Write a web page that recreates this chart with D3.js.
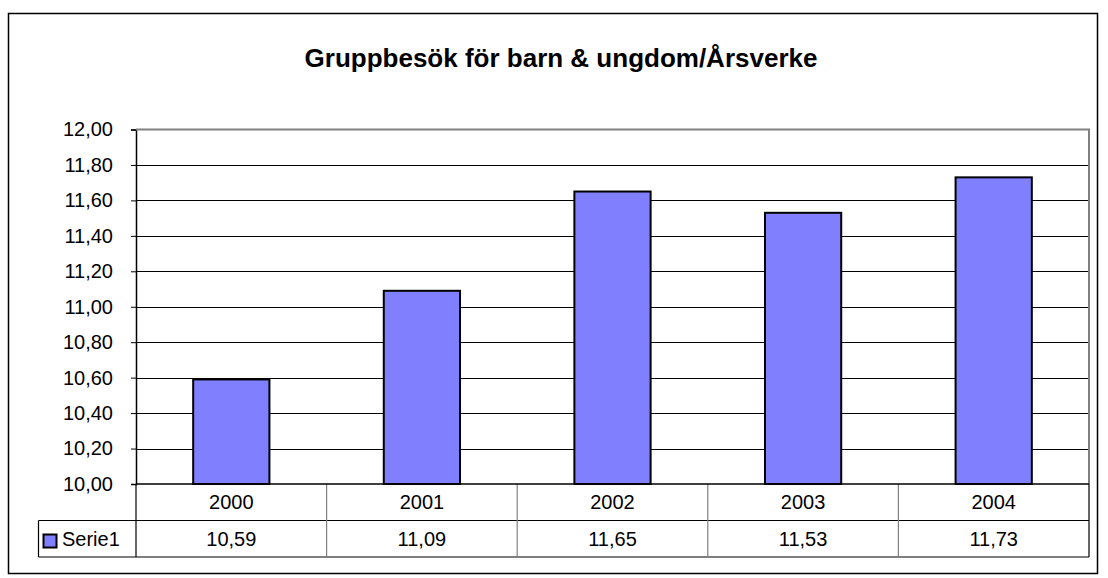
<!DOCTYPE html>
<html>
<head>
<meta charset="utf-8">
<script src="https://cdn.jsdelivr.net/npm/d3@7"></script>
<style>
  body { margin: 0; background: #fff; }
  svg text { font-family: "Liberation Sans", Arial, sans-serif; }
</style>
</head>
<body>
<div id="canvas"></div>
<script>
const title = 'Gruppbesök för barn & ungdom/Årsverke'
const years = ['2000', '2001', '2002', '2003', '2004']
const values = [10.59, 11.09, 11.65, 11.53, 11.73]
const seriesName = 'Serie1'
const yTicks = [10, 10.2, 10.4, 10.6, 10.8, 11, 11.2, 11.4, 11.6, 11.8, 12]

const width = 1108
const height = 578
const plot = { left: 136, right: 1089, top: 129.5, bottom: 484 }
const rowH = 36.5

const fmt = v => v.toFixed(2).replace('.', ',')

const svg = d3.select('#canvas')
  .append('svg')
    .attr('width', width)
    .attr('height', height)

// outer chart border
svg.append('rect')
  .attr('x', 8.5).attr('y', 13.5)
  .attr('width', 1089).attr('height', 560)
  .attr('fill', '#fff')
  .attr('stroke', '#000')
  .attr('stroke-width', 1.5)

svg.append('text')
  .attr('x', 561).attr('y', 67)
  .attr('text-anchor', 'middle')
  .attr('font-size', '26px')
  .attr('font-weight', 'bold')
  .text(title)

const x = d3.scaleBand()
  .domain(years)
  .range([plot.left, plot.right])
  .paddingInner(0)
  .paddingOuter(0)

const y = d3.scaleLinear()
  .domain([10, 12])
  .range([plot.bottom, plot.top])

// gridlines
svg.append('g')
  .selectAll('line')
  .data(yTicks.slice(1, -1))
  .join('line')
    .attr('x1', plot.left).attr('x2', plot.right)
    .attr('y1', d => Math.round(y(d)) + 0.5)
    .attr('y2', d => Math.round(y(d)) + 0.5)
    .attr('stroke', '#000')
    .attr('stroke-width', 1)

// y axis
const yAxis = d3.axisLeft(y)
  .tickValues(yTicks)
  .tickSize(5)
  .tickPadding(18)
  .tickFormat(fmt)

svg.append('g')
  .attr('transform', `translate(${plot.left}, 0)`)
  .call(yAxis)
  .call(g => g.select('.domain').attr('stroke', '#000').attr('stroke-width', 1.5))
  .call(g => g.selectAll('.tick line').attr('stroke', '#000'))
  .call(g => g.selectAll('.tick text')
    .attr('font-size', '20px')
    .attr('fill', '#000')
    .attr('font-family', '"Liberation Sans", Arial, sans-serif'))

// bars
const bw = x.bandwidth() * 0.4
svg.append('g')
  .selectAll('rect')
  .data(values)
  .join('rect')
    .attr('x', (d, i) => x(years[i]) + (x.bandwidth() - bw) / 2)
    .attr('y', d => y(d))
    .attr('width', bw)
    .attr('height', d => y(10) - y(d))
    .attr('fill', '#8080ff')
    .attr('stroke', '#000')
    .attr('stroke-width', 2)

// plot area border (grey), top and right
svg.append('path')
  .attr('d', `M${plot.left},${plot.top}H${plot.right}V${plot.bottom}`)
  .attr('fill', 'none')
  .attr('stroke', '#808080')
  .attr('stroke-width', 2)

// data table
const tbl = svg.append('g')
const row1 = plot.bottom
const row2 = plot.bottom + rowH
const row3 = plot.bottom + 2 * rowH
const legendLeft = 38.5

tbl.append('path')
  .attr('d', `M${legendLeft},${row2}H${plot.right}M${legendLeft},${row3}H${plot.right}` +
    `M${legendLeft},${row2}V${row3}M${plot.right},${row1}V${row3}`)
  .attr('stroke', '#000')
  .attr('fill', 'none')
  .attr('stroke-width', 1.2)

tbl.selectAll('line.sep')
  .data(years)
  .join('line')
    .attr('class', 'sep')
    .attr('x1', d => x(d)).attr('x2', d => x(d))
    .attr('y1', row1).attr('y2', row3)
    .attr('stroke', (d, i) => i === 0 ? '#000' : '#808080')
    .attr('stroke-width', 1.2)

tbl.append('line')
  .attr('x1', plot.left).attr('x2', plot.right)
  .attr('y1', row1).attr('y2', row1)
  .attr('stroke', '#000')
  .attr('stroke-width', 1.5)

tbl.selectAll('text.year')
  .data(years)
  .join('text')
    .attr('class', 'year')
    .attr('x', d => x(d) + x.bandwidth() / 2)
    .attr('y', row1 + 25)
    .attr('text-anchor', 'middle')
    .attr('font-size', '20px')
    .text(d => d)

tbl.selectAll('text.val')
  .data(values)
  .join('text')
    .attr('class', 'val')
    .attr('x', (d, i) => x(years[i]) + x.bandwidth() / 2)
    .attr('y', row2 + 25)
    .attr('text-anchor', 'middle')
    .attr('font-size', '20px')
    .text(fmt)

tbl.append('rect')
  .attr('x', 43.5).attr('y', row2 + 14)
  .attr('width', 13).attr('height', 13)
  .attr('fill', '#8080ff')
  .attr('stroke', '#000')
  .attr('stroke-width', 2)

tbl.append('text')
  .attr('x', 62).attr('y', row2 + 25)
  .attr('font-size', '20px')
  .text(seriesName)
</script>
</body>
</html>
